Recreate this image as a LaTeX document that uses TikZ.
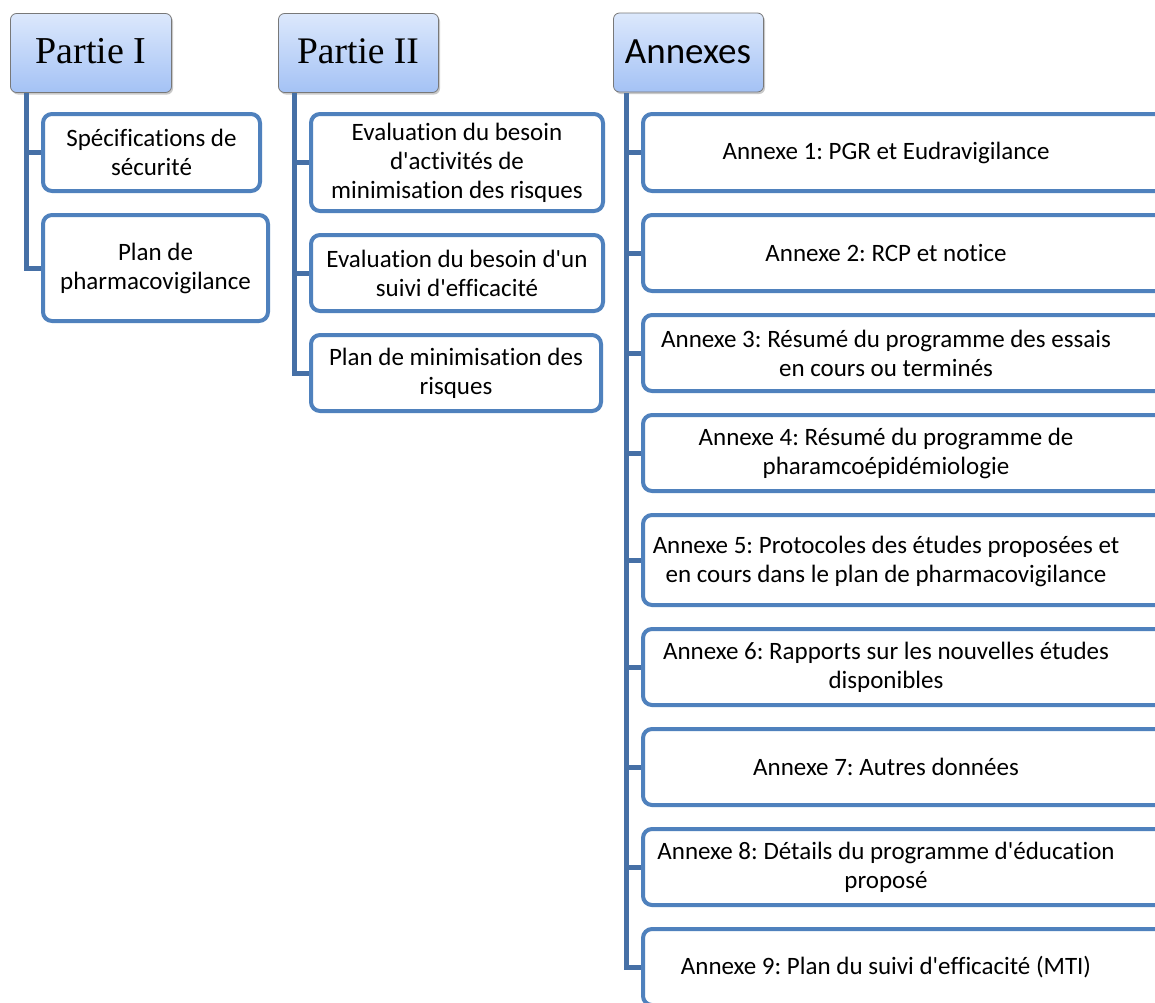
\documentclass[tikz,border=0pt]{standalone}
\usepackage{fontspec}
\newfontfamily\calfont[Ligatures=CommonOff]{Carlito}
\newfontfamily\timesfont{Liberation Serif}
\usetikzlibrary{shadows}
\definecolor{boxblue}{RGB}{79,129,189}
\definecolor{trunkblue}{RGB}{70,112,166}
\definecolor{hdrtop}{RGB}{220,232,252}
\definecolor{hdrbot}{RGB}{164,194,245}
\definecolor{hdrline}{RGB}{120,120,120}
\frenchspacing
\tikzset{
  hdrbox/.style={draw=hdrline, line width=0.8pt, rounded corners=6pt,
    top color=hdrtop, bottom color=hdrbot, inner sep=0pt,
    drop shadow={shadow xshift=1.5pt, shadow yshift=-2pt, opacity=0.35, fill=black!60}},
  cbox/.style={draw=boxblue, line width=4pt, rounded corners=9pt, fill=white,
    inner sep=0pt, align=center, font=\calfont\frenchspacing\fontsize{25}{29}\selectfont},
  abox/.style={cbox, minimum width=528pt},
  atext/.style={inner sep=0pt, align=center, font=\calfont\frenchspacing\fontsize{25}{29}\selectfont},
  trunk/.style={draw=trunkblue, line width=5pt},
}
\begin{document}
\begin{tikzpicture}[x=1pt,y=-1pt]
\useasboundingbox (0,0) rectangle (1155,1002);
\clip (0,0) rectangle (1155,1002);
\fill[white] (0,0) rectangle (1155,1002);

% headers
\node[hdrbox, minimum width=161pt, minimum height=79pt] (h1) at (91,53) {};
\node[hdrbox, minimum width=160pt, minimum height=79pt] (h2) at (358.5,53) {};
\node[hdrbox, minimum width=150pt, minimum height=79pt] (h3) at (688.5,52.5) {};
\node[anchor=base, inner sep=0pt, font=\timesfont\fontsize{38}{44}\selectfont] (h1t) at (91,63) {Partie I};
\node[anchor=base, inner sep=0pt, font=\timesfont\fontsize{37.5}{44}\selectfont] (h2t) at (358,63) {Partie II};
\node[anchor=base, inner sep=0pt, font=\calfont\fontsize{37}{44}\selectfont] (h3t) at (688,63) {Annexes};

\coordinate (t1) at (26,93);
\coordinate (t2) at (294,93);
\coordinate (t3) at (626,93);

% Partie I children
\node[cbox, minimum width=217pt, minimum height=77pt] (c11) at (151.5,152.5) {Spécifications de\\sécurité};
\node[cbox, minimum width=225pt, minimum height=106pt] (c12) at (155.5,268) {Plan de\\pharmacovigilance};

% Partie II children
\node[cbox, minimum width=292pt, minimum height=97pt] (c21) at (457,162.5) {Evaluation du besoin\\d'activités de\\minimisation des risques};
\node[cbox, minimum width=292pt, minimum height=76pt] (c22) at (457,273) {Evaluation du besoin d'un\\suivi d'efficacité};
\node[cbox, minimum width=290pt, minimum height=76pt] (c23) at (456,373) {Plan de minimisation des\\risques};

% Annexes children (boxes run past the right edge; text centred at x=886)
\node[abox, minimum height=77pt] (a1) at (907,152.5) {};
\node[abox, minimum height=76pt] (a2) at (907,253) {};
\node[abox, minimum height=76pt] (a3) at (907,353) {};
\node[abox, minimum height=76pt] (a4) at (907,453) {};
\node[abox, minimum height=90pt] (a5) at (907,560) {};
\node[abox, minimum height=76pt] (a6) at (907,667) {};
\node[abox, minimum height=76pt] (a7) at (907,767) {};
\node[abox, minimum height=76pt] (a8) at (907,867) {};
\node[abox, minimum height=76pt] (a9) at (907,967) {};
\node[atext] (a1t) at (886,152.5) {Annexe 1: PGR et Eudravigilance};
\node[atext] (a2t) at (886,253) {Annexe 2: RCP et notice};
\node[atext] (a3t) at (886,353) {Annexe 3: Résumé du programme des essais\\en cours ou terminés};
\node[atext] (a4t) at (886,453) {Annexe 4: Résumé du programme de\\pharamcoépidémiologie};
\node[atext] (a5t) at (886,561) {Annexe 5: Protocoles des études proposées et\\en cours dans le plan de pharmacovigilance};
\node[atext] (a6t) at (886,667) {Annexe 6: Rapports sur les nouvelles études\\disponibles};
\node[atext] (a7t) at (886,767) {Annexe 7: Autres données};
\node[atext] (a8t) at (886,867) {Annexe 8: Détails du programme d'éducation\\proposé};
\node[atext] (a9t) at (886,967) {Annexe 9: Plan du suivi d'efficacité (MTI)};

% connectors
\foreach \c in {c11,c12} \draw[trunk] (t1) |- (\c.west);
\foreach \c in {c21,c22,c23} \draw[trunk] (t2) |- (\c.west);
\foreach \c in {a1,a2,a3,a4,a5,a6,a7,a8,a9} \draw[trunk] (t3) |- (\c.west);
\end{tikzpicture}
\end{document}
